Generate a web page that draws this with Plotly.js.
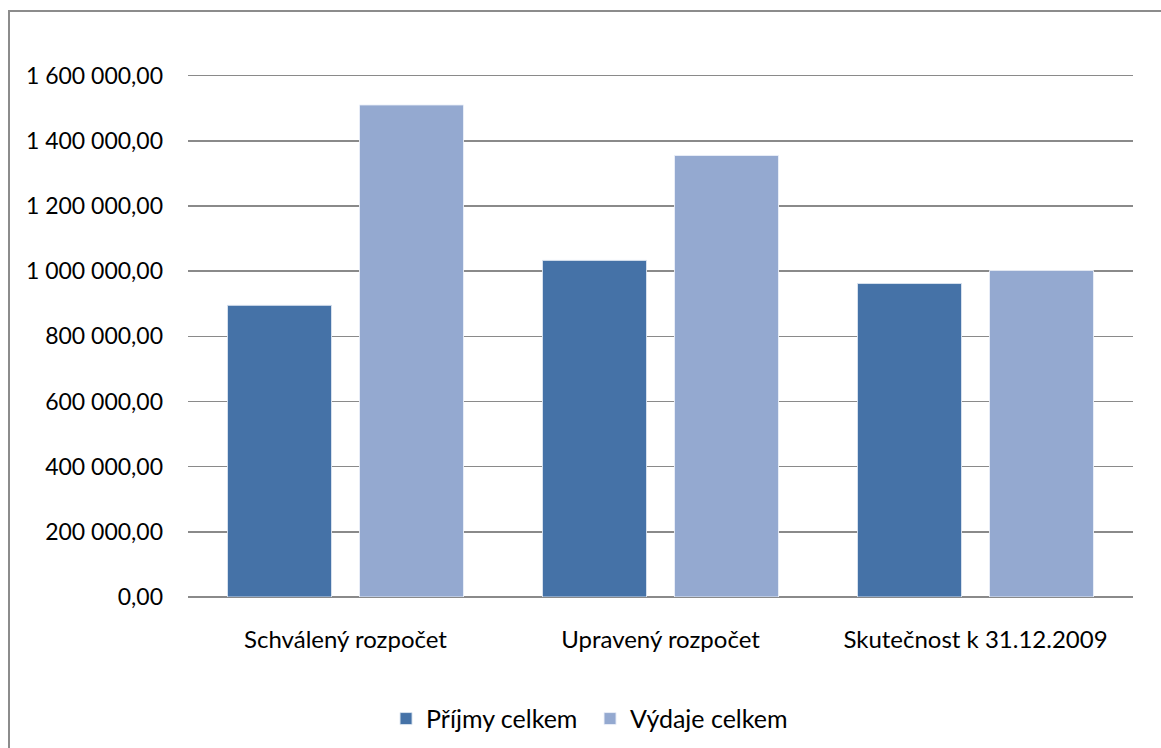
<!DOCTYPE html>
<html>
<head>
<meta charset="utf-8">
<script src="https://cdn.plot.ly/plotly-3.0.1.min.js"></script>
<style>
  html, body { margin: 0; padding: 0; background: #ffffff; overflow: hidden; }
  #frame { position: absolute; left: 8px; top: 10px; width: 1300px; height: 900px; border-left: 2px solid #8c8c8c; border-top: 2px solid #8c8c8c; pointer-events: none; z-index: 5; }
  #chart { position: absolute; left: 0; top: 0; width: 1161px; height: 748px; }
</style>
</head>
<body>
<div id="chart"></div>
<div id="frame"></div>
<script>
const categories = ["Schválený rozpočet", "Upravený rozpočet", "Skutečnost k 31.12.2009"];
const seriesNames = ["Příjmy celkem", "Výdaje celkem"];
const prijmy = [895000, 1033000, 962000];
const vydaje = [1510000, 1355000, 1002000];
const colors = ["#4572A7", "#94A9D0"];

const font = "Lato, 'Open Sans', sans-serif";

const traces = [
  { type: "bar", name: seriesNames[0], x: categories, y: prijmy,
    marker: { color: colors[0], line: { color: "rgba(220,228,240,0.9)", width: 1 } }, hoverinfo: "none" },
  { type: "bar", name: seriesNames[1], x: categories, y: vydaje,
    marker: { color: colors[1], line: { color: "rgba(235,240,248,0.9)", width: 1 } }, hoverinfo: "none" }
];

const layout = {
  width: 1161, height: 748,
  margin: { l: 188, r: 28, t: 74, b: 151, autoexpand: false },
  paper_bgcolor: "#ffffff", plot_bgcolor: "#ffffff",
  separators: ", ",
  barmode: "group",
  bargap: 0.162,
  bargroupgap: 0.212,
  font: { family: font, size: 23, color: "#000000" },
  xaxis: {
    type: "category", range: [-0.5, 2.5], automargin: false,
    showgrid: false, zeroline: false, showline: false,
    ticks: "", tickfont: { family: font, size: 24, color: "#000000" },
    ticklabelstandoff: 26
  },
  yaxis: {
    range: [0, 1605000], dtick: 200000, tick0: 0, automargin: false,
    tickformat: ",.2f",
    showgrid: true, gridcolor: "#8a8a8a", gridwidth: 1.5,
    zeroline: true, zerolinecolor: "#8a8a8a", zerolinewidth: 1.5,
    showline: false, ticks: "",
    tickfont: { family: font, size: 23, color: "#000000" },
    ticklabelstandoff: 24
  },
  legend: {
    orientation: "h", xref: "container", yref: "container",
    x: 0.3325, xanchor: "left", y: 0.039, yanchor: "middle",
    font: { family: font, size: 25, color: "#000000" },
    itemwidth: 30, entrywidth: 159
  },
  showlegend: true
};

Plotly.newPlot("chart", traces, layout, { staticPlot: true, displayModeBar: false });
</script>
</body>
</html>
